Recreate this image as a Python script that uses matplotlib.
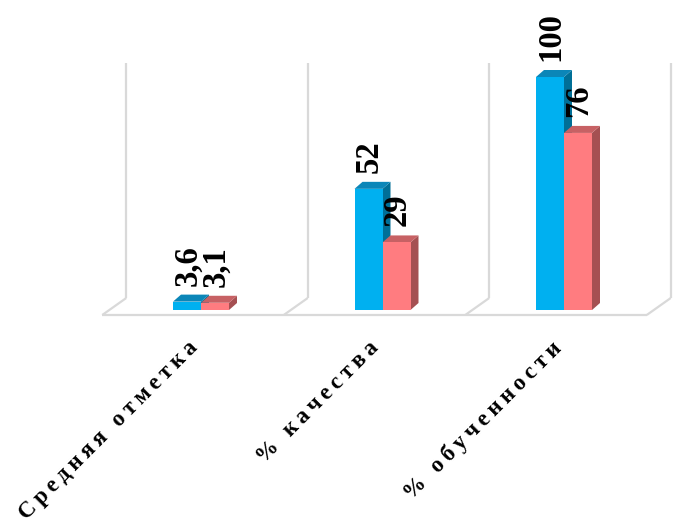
import matplotlib
matplotlib.use("Agg")
import matplotlib.pyplot as plt
from matplotlib.patches import Polygon

# ---------------- данные ----------------
categories = ["Средняя отметка", "% качества", "% обученности"]
series_1 = [3.6, 52, 100]   # голубой ряд
series_2 = [3.1, 29, 76]    # розовый ряд
labels_1 = ["3,6", "52", "100"]
labels_2 = ["3,1", "29", "76"]

blue = ("#00B0F0", "#0B86B8", "#006F97")   # front, top, side
red = ("#FF7C80", "#C76164", "#A55052")
grid_col = "#D9D9D9"

W, H = 673, 530
fig = plt.figure(figsize=(W / 100, H / 100), dpi=100)

# оси подобраны так, чтобы 1 категория = 181.5 px, 100 единиц = 233 px
cat_px = 181.5
val_px = 233 / 100
left_px = 201 - 0.5 * cat_px
ax = fig.add_axes([left_px / W, (H - 310) / H, 3 * cat_px / W, 233 / H])
ax.set_xlim(-0.5, 2.5)
ax.set_ylim(0, 100)
ax.axis("off")


def dx(px):
    return px / cat_px


def dy(px):
    return px / val_px


# ---------------- «пол» и сетка ----------------
front_y = dy(-5)
back_y = dy(12)
top_y = dy(310 - 63)
n = len(categories)
for k in range(n + 1):
    b = k - 0.5
    ax.plot([b + dx(-8), b + dx(16)], [front_y, back_y], color=grid_col,
            lw=1.6, clip_on=False, solid_capstyle="butt")
    ax.plot([b + dx(16), b + dx(16)], [back_y, top_y], color=grid_col,
            lw=1.6, clip_on=False, solid_capstyle="butt")
ax.plot([-0.5 + dx(-8), n - 0.5 + dx(-8)], [front_y, front_y], color=grid_col,
        lw=1.6, clip_on=False, solid_capstyle="butt")

# ---------------- столбцы ----------------
bw = dx(28)
ddx, ddy = dx(8), dy(7)


def draw_bars(xs, vals, cols):
    for x, v in zip(xs, vals):
        l, r = x - bw / 2, x + bw / 2
        side = Polygon([(r, 0), (r, v), (r + ddx, v + ddy), (r + ddx, ddy)],
                       closed=True, facecolor=cols[2], edgecolor="none",
                       clip_on=False)
        top = Polygon([(l, v), (r, v), (r + ddx, v + ddy), (l + ddx, v + ddy)],
                      closed=True, facecolor=cols[1], edgecolor="none",
                      clip_on=False)
        ax.add_patch(side)
        ax.add_patch(top)
    ax.bar(xs, vals, width=bw, color=cols[0], clip_on=False)


x1 = [i - bw / 2 for i in range(n)]
x2 = [i + bw / 2 for i in range(n)]
draw_bars(x1, series_1, blue)
draw_bars(x2, series_2, red)

# ---------------- подписи значений ----------------
lab_font = dict(family="Liberation Serif", weight="bold", size=23.5)
for xs, vals, labs in [(x1, series_1, labels_1), (x2, series_2, labels_2)]:
    for x, v, t in zip(xs, vals, labs):
        ax.text(x + dx(1), v + ddy + dy(9), t, rotation=90, ha="center",
                va="bottom", clip_on=False, **lab_font)

# ---------------- подписи категорий ----------------
# разрядка: тонкий пробел между буквами
cat_font = dict(family=["Liberation Serif", "DejaVu Serif"], weight="bold",
                size=16.5)
for i, c in enumerate(categories):
    spaced = "\u2009".join(list(c))
    ax.text(i + dx(-14), dy(-27), spaced, rotation=45, rotation_mode="anchor",
            ha="right", va="top", clip_on=False, **cat_font)

fig.savefig("out.png", dpi=100)
